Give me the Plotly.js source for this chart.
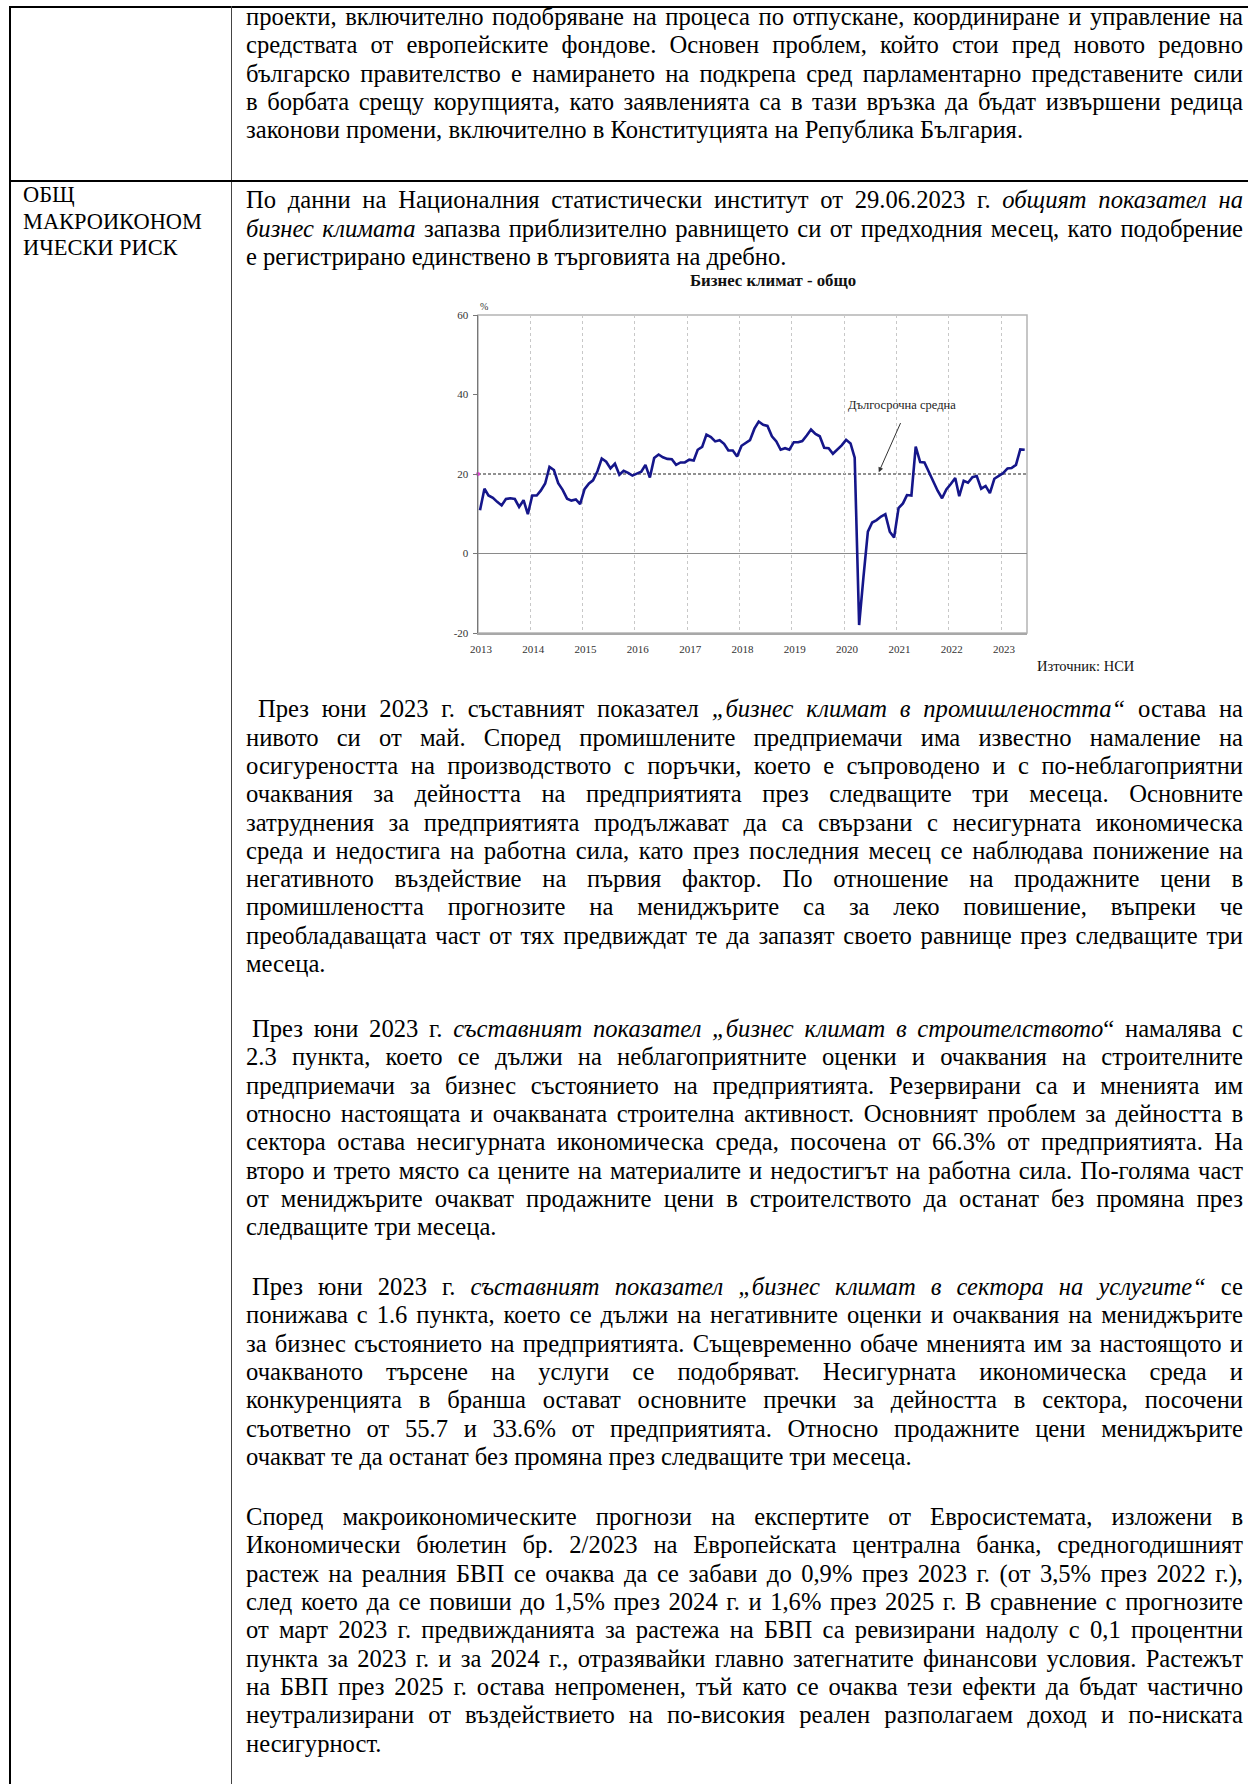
<!DOCTYPE html>
<html>
<head>
<meta charset="utf-8">
<script src="https://cdn.plot.ly/plotly-3.0.1.min.js"></script>
<style>
  html, body { margin:0; padding:0; }
  body { width:1248px; height:1784px; position:relative; overflow:hidden; background:#fff;
         font-family:'Liberation Serif','Times New Roman',serif; color:#000; }
  .rule { position:absolute; background:#000; }
  .para { position:absolute; left:246px; width:997px; font-size:24.6px; line-height:28.33px; }
  .para .l { height:28.33px; text-align:justify; text-align-last:justify; }
  .para .e { text-align:left; text-align-last:left; }
  .left { position:absolute; left:23px; top:182px; font-family:'Liberation Serif','Times New Roman',serif;
          font-size:22.4px; line-height:26.7px; }
  #chart { position:absolute; left:430px; top:265px; width:720px; height:420px; }
</style>
</head>
<body>
<div class="rule" style="left:9px;top:6px;width:1239px;height:2px;"></div>
<div class="rule" style="left:9px;top:6px;width:2px;height:1778px;"></div>
<div class="rule" style="left:230.5px;top:6px;width:1.5px;height:1778px;background:#444;"></div>
<div class="rule" style="left:9px;top:180px;width:1239px;height:2px;"></div>

<div class="para" style="top:3px;">
  <div class="l">проекти, включително подобряване на процеса по отпускане, координиране и управление на</div>
  <div class="l">средствата от европейските фондове. Основен проблем, който стои пред новото редовно</div>
  <div class="l">българско правителство е намирането на подкрепа сред парламентарно представените сили</div>
  <div class="l">в борбата срещу корупцията, като заявленията са в тази връзка да бъдат извършени редица</div>
  <div class="l e">законови промени, включително в Конституцията на Република България.</div>
</div>

<div class="left">ОБЩ<br>МАКРОИКОНОМ<br>ИЧЕСКИ РИСК</div>

<div class="para" style="top:186.4px;">
  <div class="l">По данни на Националния статистически институт от 29.06.2023 г. <i>общият показател на</i></div>
  <div class="l"><i>бизнес климата</i> запазва приблизително равнището си от предходния месец, като подобрение</div>
  <div class="l e">е регистрирано единствено в търговията на дребно.</div>
</div>

<div id="chart"></div>

<div class="para" style="top:695.2px;">
  <div class="l" style="text-indent:12px;">През юни 2023 г. съставният показател <i>„бизнес климат в промишлеността“</i> остава на</div>
  <div class="l">нивото си от май. Според промишлените предприемачи има известно намаление на</div>
  <div class="l">осигуреността на производството с поръчки, което е съпроводено и с по-неблагоприятни</div>
  <div class="l">очаквания за дейността на предприятията през следващите три месеца. Основните</div>
  <div class="l">затруднения за предприятията продължават да са свързани с несигурната икономическа</div>
  <div class="l">среда и недостига на работна сила, като през последния месец се наблюдава понижение на</div>
  <div class="l">негативното въздействие на първия фактор. По отношение на продажните цени в</div>
  <div class="l">промишлеността прогнозите на мениджърите са за леко повишение, въпреки че</div>
  <div class="l">преобладаващата част от тях предвиждат те да запазят своето равнище през следващите три</div>
  <div class="l e">месеца.</div>
</div>

<div class="para" style="top:1014.9px;">
  <div class="l" style="text-indent:6px;">През юни 2023 г. <i>съставният показател „бизнес климат в строителството</i>“ намалява с</div>
  <div class="l">2.3 пункта, което се дължи на неблагоприятните оценки и очаквания на строителните</div>
  <div class="l">предприемачи за бизнес състоянието на предприятията. Резервирани са и мненията им</div>
  <div class="l">относно настоящата и очакваната строителна активност. Основният проблем за дейността в</div>
  <div class="l">сектора остава несигурната икономическа среда, посочена от 66.3% от предприятията. На</div>
  <div class="l">второ и трето място са цените на материалите и недостигът на работна сила. По-голяма част</div>
  <div class="l">от мениджърите очакват продажните цени в строителството да останат без промяна през</div>
  <div class="l e">следващите три месеца.</div>
</div>

<div class="para" style="top:1273.1px;">
  <div class="l" style="text-indent:6px;">През юни 2023 г. <i>съставният показател „бизнес климат в сектора на услугите“</i> се</div>
  <div class="l">понижава с 1.6 пункта, което се дължи на негативните оценки и очаквания на мениджърите</div>
  <div class="l">за бизнес състоянието на предприятията. Същевременно обаче мненията им за настоящото и</div>
  <div class="l">очакваното търсене на услуги се подобряват. Несигурната икономическа среда и</div>
  <div class="l">конкуренцията в бранша остават основните пречки за дейността в сектора, посочени</div>
  <div class="l">съответно от 55.7 и 33.6% от предприятията. Относно продажните цени мениджърите</div>
  <div class="l e">очакват те да останат без промяна през следващите три месеца.</div>
</div>

<div class="para" style="top:1502.9px;">
  <div class="l">Според макроикономическите прогнози на експертите от Евросистемата, изложени в</div>
  <div class="l">Икономически бюлетин бр. 2/2023 на Европейската централна банка, средногодишният</div>
  <div class="l">растеж на реалния БВП се очаква да се забави до 0,9% през 2023 г. (от 3,5% през 2022 г.),</div>
  <div class="l">след което да се повиши до 1,5% през 2024 г. и 1,6% през 2025 г. В сравнение с прогнозите</div>
  <div class="l">от март 2023 г. предвижданията за растежа на БВП са ревизирани надолу с 0,1 процентни</div>
  <div class="l">пункта за 2023 г. и за 2024 г., отразявайки главно затегнатите финансови условия. Растежът</div>
  <div class="l">на БВП през 2025 г. остава непроменен, тъй като се очаква тези ефекти да бъдат частично</div>
  <div class="l">неутрализирани от въздействието на по-високия реален разполагаем доход и по-ниската</div>
  <div class="l e">несигурност.</div>
</div>

<script>
// keep every justified line on one row (tighten word spacing if a line would wrap)
document.querySelectorAll('.para .l').forEach(el => {
  let ws = 0;
  while (el.scrollHeight > 31 && ws > -6) { ws -= 0.25; el.style.wordSpacing = ws + 'px'; }
});

// Business climate - total (%), monthly values, Jan 2013 - Jun 2023
const years = [2013, 2014, 2015, 2016, 2017, 2018, 2019, 2020, 2021, 2022, 2023];
const bc2013 = [10.9, 16.3, 14.6, 14.0, 13.0, 12.1, 13.7, 13.9, 13.7, 11.7, 13.4, 9.9];
const bc2014 = [14.6, 14.6, 15.8, 17.6, 21.8, 21.0, 17.7, 16.0, 13.8, 13.3, 13.6, 12.4];
const bc2015 = [16.2, 17.6, 18.4, 20.7, 23.9, 23.1, 21.4, 22.6, 19.8, 20.8, 20.3, 19.6];
const bc2016 = [20.1, 20.6, 22.3, 19.1, 24.0, 24.9, 24.2, 23.8, 23.7, 22.3, 22.9, 22.9];
const bc2017 = [23.6, 23.4, 26.1, 26.8, 29.9, 29.3, 28.2, 28.5, 27.6, 25.9, 25.9, 24.4];
const bc2018 = [27.1, 27.8, 28.5, 31.4, 33.2, 32.4, 32.1, 29.5, 28.2, 26.1, 26.5, 26.1];
const bc2019 = [28.0, 28.0, 28.3, 29.7, 31.2, 30.1, 29.5, 26.6, 26.5, 25.1, 26.2, 27.2];
const bc2020 = [28.6, 27.7, 24.1, -18.0, -6.0, 5.5, 7.8, 8.4, 9.3, 9.9, 5.5, 4.0];
const bc2021 = [11.4, 12.6, 14.7, 14.6, 26.9, 23.0, 22.9, 20.5, 18.1, 15.8, 13.9, 16.1];
const bc2022 = [17.5, 19.0, 14.4, 18.3, 17.8, 19.2, 19.5, 16.3, 17.0, 15.2, 18.8, 19.5];
const bc2023 = [20.2, 21.4, 21.5, 22.3, 26.2, 26.1];
const longTermAverage = 20;
const yTicks = [-20, 0, 20, 40, 60];
const xTickLabels = ['2013','2014','2015','2016','2017','2018','2019','2020','2021','2022','2023'];
const chartTitle = 'Бизнес климат - общо';
const avgLabel = 'Дългосрочна средна';
const sourceLabel = 'Източник: НСИ';
const unitLabel = '%';

const byYear = [bc2013, bc2014, bc2015, bc2016, bc2017, bc2018, bc2019, bc2020, bc2021, bc2022, bc2023];
const xs = [], ys = [];
years.forEach((yr, i) => {
  byYear[i].forEach((v, m) => {
    xs.push(yr + '-' + String(m + 1).padStart(2, '0') + '-15');
    ys.push(v);
  });
});

const serif = 'Liberation Serif, Times New Roman, serif';

const traces = [
  { x: xs, y: ys, type: 'scatter', mode: 'lines',
    line: { color: '#15168a', width: 2.6 }, hoverinfo: 'skip', cliponaxis: false },
  { x: ['2013-01-01'], y: [longTermAverage], type: 'scatter', mode: 'markers',
    marker: { color: '#e040d0', size: 4 }, cliponaxis: false, hoverinfo: 'skip' }
];

const layout = {
  width: 720, height: 420,
  margin: { l: 48, r: 123, t: 50, b: 51.5, pad: 0 },
  paper_bgcolor: 'rgba(0,0,0,0)', plot_bgcolor: 'rgba(0,0,0,0)',
  showlegend: false,
  title: { text: '<b>' + chartTitle + '</b>', x: 0.4764, xref: 'container', xanchor: 'center',
           y: 0.964, yref: 'container', yanchor: 'middle',
           font: { family: serif, size: 16.8, color: '#111' } },
  xaxis: { type: 'date', range: ['2013-01-01', '2023-07-01'],
           tickvals: xTickLabels.map(t => t + '-01-01'), ticktext: xTickLabels,
           showgrid: true, gridcolor: '#c8c8c8', griddash: 'dot', gridwidth: 1,
           ticks: '', showline: true, linecolor: '#a8a8a8', linewidth: 1.5,
           tickfont: { family: serif, size: 11, color: '#333' },
           ticklabelshift: 3, ticklabelstandoff: 5, zeroline: false, fixedrange: true },
  yaxis: { range: [-20, 60], tickvals: yTicks, ticktext: yTicks.map(String),
           showgrid: false, zeroline: true, zerolinecolor: '#8a8a8a', zerolinewidth: 1.5,
           showline: true, linecolor: '#777', linewidth: 1.5,
           ticks: 'outside', ticklen: 4, tickcolor: '#777', tickwidth: 1,
           tickfont: { family: serif, size: 11, color: '#333' }, ticklabelstandoff: 2, fixedrange: true },
  shapes: [
    { type: 'rect', xref: 'paper', yref: 'paper', x0: 0, x1: 1, y0: 0, y1: 1,
      line: { color: '#b4b4b4', width: 1.5 }, layer: 'below' },
    { type: 'line', xref: 'paper', yref: 'y', x0: 0, x1: 1, y0: longTermAverage, y1: longTermAverage,
      line: { color: '#222', width: 1, dash: '3px,2px' }, layer: 'below' }
  ],
  annotations: [
    { xref: 'x', yref: 'y', x: '2021-02-10', y: 37.4, text: avgLabel, showarrow: false,
      font: { family: serif, size: 12.5, color: '#222' }, xanchor: 'center', yanchor: 'middle' },
    { xref: 'x', yref: 'y', x: '2020-08-30', y: 20.45, axref: 'x', ayref: 'y',
      ax: '2021-02-03', ay: 33.2, text: '', showarrow: true, arrowhead: 2, arrowsize: 1,
      arrowwidth: 1, arrowcolor: '#333', standoff: 0, startstandoff: 0 },
    { xref: 'paper', yref: 'paper', x: 0.0104, y: 1.028, text: unitLabel, showarrow: false,
      font: { family: serif, size: 10, color: '#333' }, xanchor: 'center', yanchor: 'middle' },
    { xref: 'paper', yref: 'paper', x: 1.108, y: -0.105, text: sourceLabel, showarrow: false,
      font: { family: serif, size: 14.5, color: '#111' }, xanchor: 'center', yanchor: 'middle' }
  ]
};

Plotly.newPlot('chart', traces, layout, { staticPlot: true, displayModeBar: false });
</script>
</body>
</html>
